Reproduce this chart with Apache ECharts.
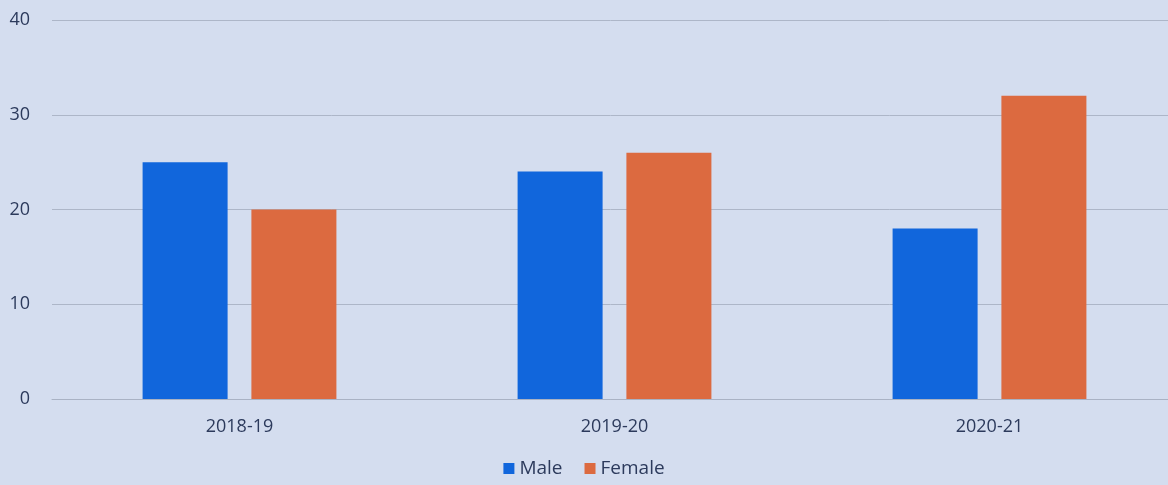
<!DOCTYPE html>
<html>
<head>
<meta charset="utf-8">
<script src="https://cdn.jsdelivr.net/npm/echarts@6/dist/echarts.min.js"></script>
<style>
  html, body { margin: 0; padding: 0; }
  #box { width: 1168px; height: 485px; background: #d4ddef; }
</style>
</head>
<body>
<div id="box"></div>
<script>
const years = ['2018-19', '2019-20', '2020-21'];
const maleList = [25, 24, 18];
const femaleList = [20, 26, 32];

const chartDom = document.getElementById('box');
const myChart = echarts.init(chartDom);

const textColor = '#2c3a5c';

var option = {
  backgroundColor: '#d4ddef',
  textStyle: { fontFamily: 'Open Sans' },
  legend: {
    bottom: 2,
    left: 'center',
    itemWidth: 11,
    itemHeight: 11,
    itemGap: 22,
    icon: 'rect',
    textStyle: { color: textColor, fontSize: 19, fontFamily: 'Open Sans' },
    data: ['Male', 'Female']
  },
  grid: {
    left: 52,
    width: 1125,
    top: 20,
    bottom: 86,
    containLabel: false,
    outerBoundsMode: 'none'
  },
  xAxis: {
    type: 'category',
    data: years,
    axisLine: { lineStyle: { color: '#a9b2c4', width: 1 } },
    axisTick: { show: false },
    axisLabel: { color: textColor, fontSize: 18, margin: 19 }
  },
  yAxis: {
    type: 'value',
    min: 0,
    max: 40,
    interval: 10,
    axisLine: { show: false },
    axisTick: { show: false },
    axisLabel: { color: textColor, fontSize: 18, margin: 22 },
    splitLine: { lineStyle: { color: '#adb6c8', width: 1 } }
  },
  series: [
    {
      name: 'Male',
      type: 'bar',
      data: maleList,
      barWidth: 85,
      barGap: '28%',
      itemStyle: { color: '#1166dc' }
    },
    {
      name: 'Female',
      type: 'bar',
      data: femaleList,
      barWidth: 85,
      itemStyle: { color: '#dc6a40' }
    }
  ]
};
option && myChart.setOption(option);
</script>
</body>
</html>
